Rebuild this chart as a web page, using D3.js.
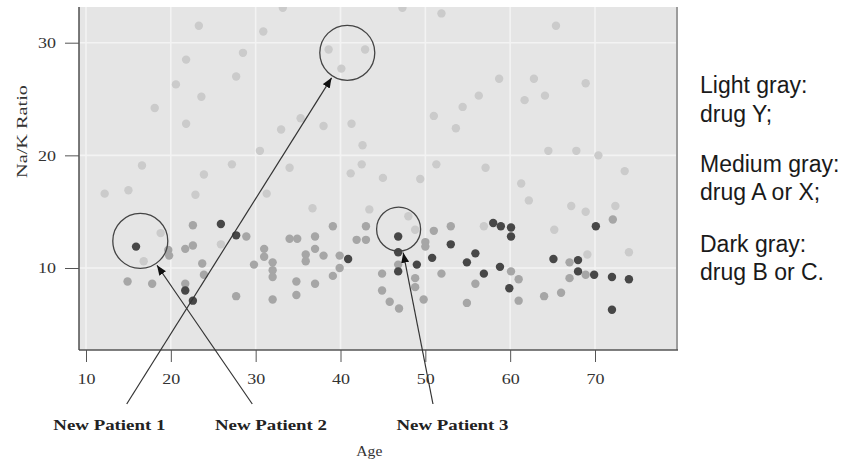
<!DOCTYPE html>
<html>
<head>
<meta charset="utf-8">
<script src="https://cdn.jsdelivr.net/npm/d3@7"></script>
<style>
  body { margin: 0; background: #fff; }
  .axis text { font-family: "Liberation Serif", serif; font-size: 15px; fill: #333; }
  .axis line { stroke: #555; }
</style>
</head>
<body>
<div id="chart"></div>
<script>
// points: [age, Na/K ratio]
var drugY = [[33.2,33.1],[23.3,31.5],[30.9,31.0],[28.5,29.1],[21.8,28.5],[27.7,27.0],[20.6,26.3],[23.6,25.2],
  [18.1,24.2],[21.8,22.8],[33.0,22.3],[35.3,23.3],[38.0,22.6],[41.3,22.8],[30.5,20.4],[34.0,18.9],[27.2,19.2],
  [23.9,18.3],[16.6,19.1],[12.2,16.6],[15.0,16.9],[22.9,16.5],[31.3,16.6],[42.6,20.9],[42.5,19.2],[41.2,18.4],
  [38.6,29.4],[40.1,27.7],[42.9,29.4],[47.3,33.1],[51.9,32.6],[65.4,31.5],[58.7,26.8],[62.8,26.8],[68.9,26.4],
  [56.3,25.3],[64.1,25.3],[54.4,24.3],[61.7,24.9],[51.0,23.5],[53.6,22.4],[45.0,18.0],[49.4,17.9],[51.3,19.2],
  [57.1,18.9],[61.3,17.5],[62.2,16.0],[64.5,20.4],[67.8,20.4],[70.4,20.0],[73.5,18.6],[36.7,15.3],[43.4,15.2],
  [67.2,15.5],[68.9,15.0],[72.4,15.5],[18.8,13.1],[16.8,10.6],[25.9,12.1],[48.0,14.6],[48.8,13.4],[56.9,13.7],
  [65.2,13.4],[69.1,11.2],[74.0,11.4]];
var drugAX = [[19.7,11.6],[19.8,11.1],[22.6,13.8],[28.9,12.8],[22.6,12.0],[21.7,11.7],[23.7,10.4],[23.9,9.4],
  [14.9,8.8],[17.8,8.6],[21.7,8.6],[27.7,7.5],[31.0,11.7],[31.0,11.0],[29.8,10.3],[32.0,10.5],[32.0,9.8],
  [32.0,9.2],[32.0,7.2],[39.1,13.7],[34.0,12.6],[34.9,12.6],[37.0,12.8],[37.0,11.7],[35.9,11.2],[35.9,10.6],
  [38.0,11.1],[39.9,11.1],[39.9,10.0],[39.1,9.3],[34.8,8.8],[37.0,8.6],[34.8,7.6],[43.0,13.7],[43.0,12.5],
  [41.9,12.5],[50.0,12.3],[50.0,11.9],[51.0,13.3],[53.0,13.7],[46.8,10.3],[44.9,9.5],[44.9,8.0],[45.8,7.0],
  [46.9,6.4],[48.8,9.1],[48.8,8.3],[49.8,7.2],[51.9,9.5],[55.9,8.6],[54.9,6.9],[60.1,9.7],[61.0,9.0],[61.0,7.1],
  [67.0,10.5],[67.0,9.1],[68.9,9.4],[66.0,7.8],[64.0,7.5],[72.1,14.3]];
var drugBC = [[15.9,11.9],[25.9,13.9],[27.7,12.9],[21.7,8.0],[22.6,7.1],[40.9,10.8],[46.8,12.8],[46.8,11.4],
  [46.8,9.7],[49.0,10.3],[53.0,12.1],[50.8,10.9],[54.9,10.5],[55.9,11.3],[56.9,9.5],[58.0,14.0],[58.9,13.7],
  [60.1,13.6],[60.1,12.8],[70.1,13.7],[58.8,10.1],[59.9,8.2],[65.1,10.8],[68.0,10.7],[68.0,9.7],[69.9,9.4],
  [72.0,9.2],[74.0,9.0],[72.0,6.3]];

var xTicks = [10, 20, 30, 40, 50, 60, 70];
var yTicks = [10, 20, 30];

// new patients: label, ringed point, label centre and arrow foot (age units)
var patientLabels = ["New Patient 1", "New Patient 2", "New Patient 3"];
var patientAge = [40.8, 16.4, 46.85];
var patientRatio = [29.1, 12.4, 13.45];
var labelAge = [12.75, 31.8, 53.2];
var arrowFootAge = [14.8, 29.6, 50.9];

var legendLines = ["Light gray:", "drug Y;", "Medium gray:", "drug A or X;", "Dark gray:", "drug B or C."];

// layout
var margin = {top: 7, left: 79};
var w = 598, h = 343;
var x = d3.scaleLinear().domain([10, 70]).range([7, 516]);
var y = d3.scaleLinear().domain([10, 30]).range([261, 35.7]);

var svg = d3.select("#chart").append("svg").attr("width", 848).attr("height", 463);
var defs = svg.append("defs");
defs.append("clipPath").attr("id", "clipper").append("rect")
  .attr("x", 0).attr("y", 0).attr("width", w).attr("height", h);
defs.append("filter").attr("id", "soft").append("feGaussianBlur").attr("stdDeviation", 0.6);
defs.append("marker").attr("id", "arrow")
  .attr("markerUnits", "userSpaceOnUse").attr("markerWidth", 11).attr("markerHeight", 9)
  .attr("refX", 10).attr("refY", 4).attr("orient", "auto")
  .append("path").attr("d", "M0,0 L10,4 L0,8 Z").attr("fill", "#111");

var container = svg.append("g").attr("transform", "translate(" + margin.left + "," + margin.top + ")");

// background and grid
container.append("rect").attr("width", w).attr("height", h).attr("fill", "#e5e5e5");
container.selectAll(".vgrid").data(xTicks).enter().append("line")
  .attr("x1", function(d) { return x(d); }).attr("x2", function(d) { return x(d); })
  .attr("y1", 0).attr("y2", h).attr("stroke", "#f3f3f3").attr("stroke-width", 1.6);
container.selectAll(".hgrid").data(yTicks).enter().append("line")
  .attr("x1", 0).attr("x2", w)
  .attr("y1", function(d) { return y(d); }).attr("y2", function(d) { return y(d); })
  .attr("stroke", "#f3f3f3").attr("stroke-width", 1.6);

// points
var pts = container.append("g").attr("clip-path", "url(#clipper)").attr("filter", "url(#soft)");
[[drugY, "#cbcbcb"], [drugAX, "#a6a6a6"], [drugBC, "#474747"]].forEach(function(s) {
  pts.append("g").selectAll("circle").data(s[0]).enter().append("circle")
    .attr("cx", function(d) { return x(d[0]); })
    .attr("cy", function(d) { return y(d[1]); })
    .attr("r", 4.2)
    .attr("fill", s[1]);
});

// frame
container.append("line").attr("x1", w).attr("x2", w).attr("y1", 0).attr("y2", h)
  .attr("stroke", "#9c9c9c").attr("stroke-width", 2);
container.append("line").attr("x1", 0).attr("x2", w + 1).attr("y1", h).attr("y2", h)
  .attr("stroke", "#555").attr("stroke-width", 1.4);
container.append("line").attr("x1", 0).attr("x2", 0).attr("y1", 0).attr("y2", h)
  .attr("stroke", "#444").attr("stroke-width", 1.4);

// axes
var xAxis = d3.axisBottom(x).tickValues(xTicks).tickSize(12).tickPadding(11).tickFormat(d3.format("d"));
var yAxis = d3.axisLeft(y).tickValues(yTicks).tickSize(14).tickPadding(9).tickFormat(d3.format("d"));
var gx = container.append("g").attr("class", "x axis").attr("transform", "translate(0," + h + ")").call(xAxis);
var gy = container.append("g").attr("class", "y axis").call(yAxis);
gx.select(".domain").remove();
gy.select(".domain").remove();
container.selectAll(".axis text").attr("textLength", 18).attr("lengthAdjust", "spacingAndGlyphs");

container.append("text").attr("x", x(43.4)).attr("y", 449)
  .attr("text-anchor", "middle").attr("textLength", 26).attr("lengthAdjust", "spacingAndGlyphs")
  .style("font-family", "Liberation Serif, serif").style("font-size", "15px").style("fill", "#333")
  .text("Age");
container.append("text").attr("transform", "translate(-52,124.5) rotate(-90)")
  .attr("text-anchor", "middle").attr("textLength", 93).attr("lengthAdjust", "spacingAndGlyphs")
  .style("font-family", "Liberation Serif, serif").style("font-size", "15px").style("fill", "#333")
  .text("Na/K Ratio");

// new patient rings, arrows and labels
var ringR = [27.5, 27.5, 22];
var ann = container.append("g");
patientLabels.forEach(function(label, i) {
  var cx = x(patientAge[i]), cy = y(patientRatio[i]);
  var sx = x(arrowFootAge[i]), sy = 397;
  var dx = sx - cx, dy = sy - cy, len = Math.sqrt(dx * dx + dy * dy);
  var tx = cx + dx / len * (ringR[i] + 2), ty = cy + dy / len * (ringR[i] + 2);
  ann.append("circle").attr("cx", cx).attr("cy", cy).attr("r", ringR[i])
    .attr("fill", "none").attr("stroke", "#444").attr("stroke-width", 1.3);
  ann.append("line").attr("x1", sx).attr("y1", sy).attr("x2", tx).attr("y2", ty)
    .attr("stroke", "#333").attr("stroke-width", 1.2).attr("marker-end", "url(#arrow)");
  ann.append("text").attr("x", x(labelAge[i])).attr("y", 423)
    .attr("text-anchor", "middle").attr("textLength", 112).attr("lengthAdjust", "spacingAndGlyphs")
    .style("font-family", "Liberation Serif, serif").style("font-size", "14px")
    .style("font-weight", "bold").style("fill", "#222")
    .text(label);
});

// legend notes
var legendY = [93, 122, 172, 200, 252, 280];
svg.append("g").selectAll("text").data(legendLines).enter().append("text")
  .attr("x", 700).attr("y", function(d, i) { return legendY[i]; })
  .style("font-family", "Liberation Sans, Arial, sans-serif").style("font-size", "23px").style("fill", "#1a1a1a")
  .text(function(d) { return d; });
</script>
</body>
</html>
